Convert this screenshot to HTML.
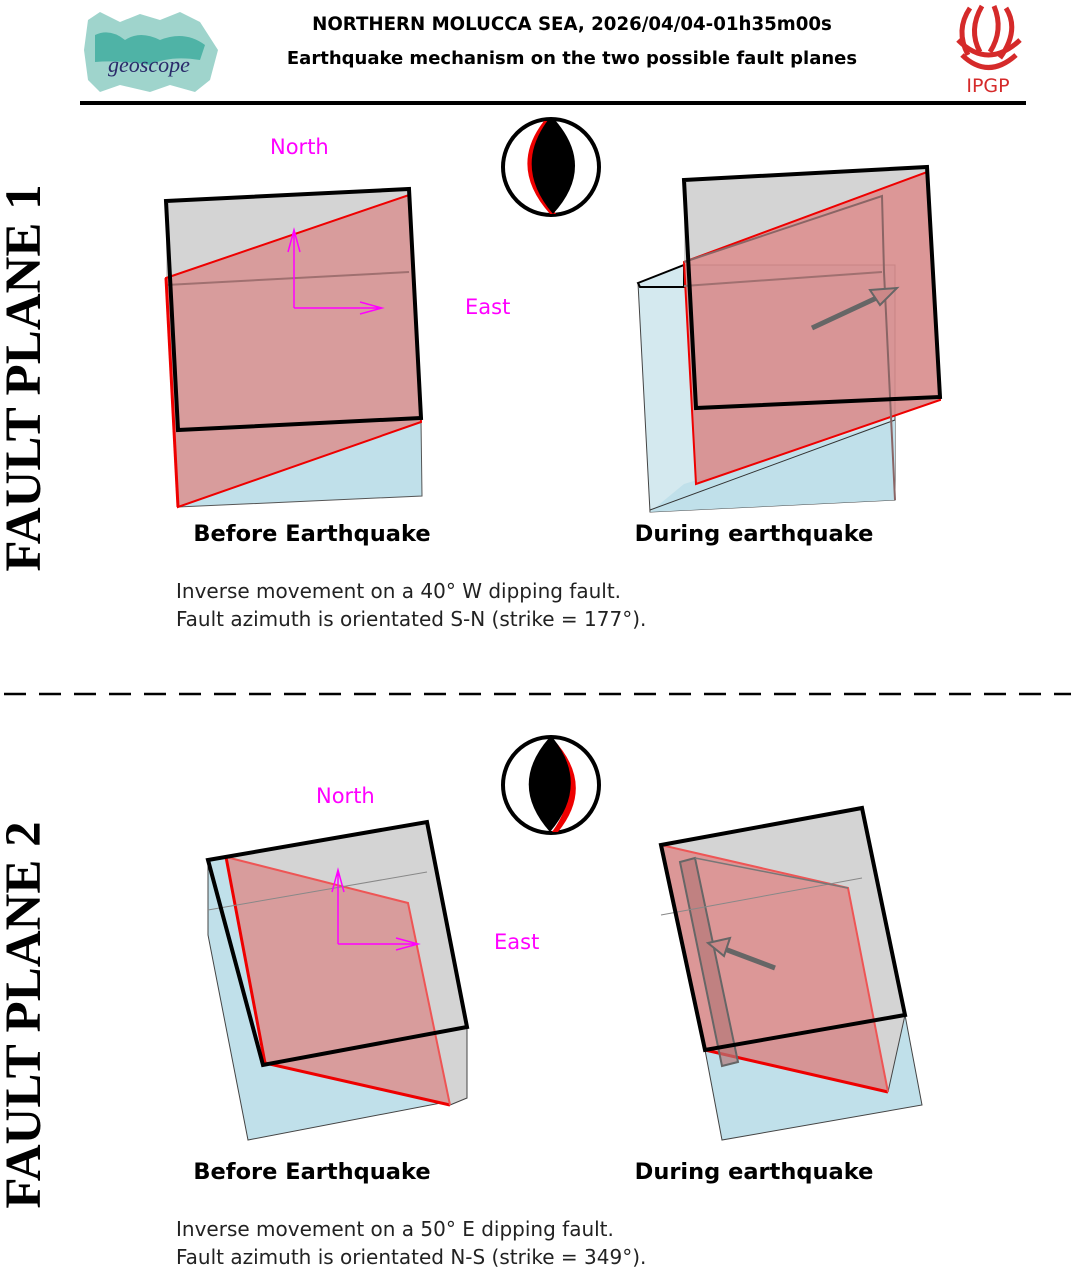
<!DOCTYPE html>
<html><head><meta charset="utf-8"><style>
html,body{margin:0;padding:0;background:#fff;}
svg{display:block;}
</style></head><body>
<svg width="1071" height="1269" viewBox="0 0 1071 1269" xmlns="http://www.w3.org/2000/svg" font-family="DejaVu Sans, Liberation Sans, sans-serif">
<!-- header -->
<g>
<path d="M88,20 L100,12 L120,22 L140,14 L160,20 L180,12 L200,22 L218,50 L210,80 L195,92 L170,85 L150,92 L120,85 L100,92 L88,80 L84,50 Z" fill="#9fd4cc"/>
<path d="M95,35 Q110,28 125,40 Q140,30 160,40 Q185,30 205,45 L200,60 Q170,55 150,65 Q120,60 95,62 Z" fill="#4fb3a6"/>
<text x="108" y="72" font-family="Liberation Serif, serif" font-style="italic" font-size="22" fill="#2a2a6a">geoscope</text>
<text x="572" y="30" text-anchor="middle" font-weight="bold" font-size="18.2" fill="#000">NORTHERN MOLUCCA SEA, 2026/04/04-01h35m00s</text>
<text x="572" y="64" text-anchor="middle" font-weight="bold" font-size="18" fill="#000">Earthquake mechanism on the two possible fault planes</text>
<g fill="none" stroke="#d52a2a" stroke-width="5">
<path d="M970,8 Q955,30 968,55"/><path d="M982,6 Q968,30 980,52"/><path d="M994,6 Q1004,30 990,52"/><path d="M1006,8 Q1020,30 1000,58"/>
<path d="M958,40 Q988,70 1020,40"/><path d="M962,55 Q988,80 1016,55"/>
</g>
<text x="988" y="92" text-anchor="middle" font-size="19" fill="#d52a2a">IPGP</text>
<rect x="80" y="101" width="946" height="4" fill="#000"/>
</g>

<!-- side labels -->
<text transform="translate(40,378) rotate(-90)" text-anchor="middle" font-family="Liberation Serif, serif" font-weight="bold" font-size="51" fill="#000">FAULT PLANE 1</text>
<text transform="translate(40,1015) rotate(-90)" text-anchor="middle" font-family="Liberation Serif, serif" font-weight="bold" font-size="51" fill="#000">FAULT PLANE 2</text>

<line x1="4" y1="694" x2="1071" y2="694" stroke="#000" stroke-width="2.5" stroke-dasharray="22,13"/>

<!-- beachball 1 -->
<g>
<circle cx="551" cy="167" r="48" fill="#fff" stroke="#000" stroke-width="4"/>
<path d="M544,121 Q508,167 550,214 L556,214 Q520,167 549,121 Z" fill="#e00"/>
<path d="M548,120 Q513,167 553,214 Q596,167 555,120 Z" fill="#000"/>
</g>
<!-- beachball 2 -->
<g>
<circle cx="551" cy="785" r="48" fill="#fff" stroke="#000" stroke-width="4"/>
<path d="M553,739 Q596,785 558,832 L552,832 Q586,785 549,739 Z" fill="#e00"/>
<path d="M549,738 Q508,785 550,832 Q590,785 553,738 Z" fill="#000"/>
</g>

<!-- Block 1 before -->
<g>
<polygon points="178,430 421,420 422,496 178,507" fill="#c0e0ea" stroke="#555" stroke-width="1"/>
<polygon points="166,201 409,189 409,195 166,278" fill="#d4d4d4"/>
<polygon points="166,278 409,195 421,422 178,507" fill="#d89c9c" stroke="#e00" stroke-width="2"/>
<line x1="166" y1="285" x2="409" y2="272" stroke="#a07070" stroke-width="2"/>
<polygon points="166,201 409,189 421,418 178,430" fill="none" stroke="#000" stroke-width="4"/>
<line x1="166" y1="278" x2="178" y2="507" stroke="#e00" stroke-width="3"/>
<g stroke="#f0f" stroke-width="1.5" fill="none">
<path d="M294,308 L294,230 M288,252 L294,230 L300,252"/>
<path d="M294,308 L382,308 M360,302 L382,308 L360,314"/>
</g>
<text x="270" y="154" font-size="21" fill="#f0f">North</text>
<text x="465" y="314" font-size="21" fill="#f0f">East</text>
</g>

<!-- Block 1 during -->
<g>
<polygon points="638,283 684,265 895,265 895,500 650,512" fill="#d4e9ef" stroke="#444" stroke-width="1"/>
<polygon points="684,484 895,420 895,500 650,512" fill="#c0e0ea"/>
<line x1="650" y1="510" x2="895" y2="420" stroke="#333" stroke-width="1"/>
<polygon points="638,283 684,265 684,287 640,287" fill="#d4e9ef" stroke="#000" stroke-width="2"/>
<polygon points="684,180 927,167 927,172 684,262" fill="#d4d4d4"/>
<polygon points="684,262 927,172 940,400 696,484" fill="rgba(216,140,140,0.9)" stroke="#e00" stroke-width="2"/>
<polyline points="684,262 882,196 884,272 895,500" fill="none" stroke="#8a6565" stroke-width="2"/>
<line x1="684" y1="286" x2="882" y2="272" stroke="#a07070" stroke-width="2"/>
<polygon points="684,180 927,167 940,397 696,408" fill="none" stroke="#000" stroke-width="4"/>
<line x1="812" y1="328" x2="885" y2="294" stroke="#666" stroke-width="5"/>
<polygon points="897,288 870,290 880,305" fill="#c88" stroke="#666" stroke-width="2"/>
</g>

<text x="312" y="541" text-anchor="middle" font-weight="bold" font-size="22.5" fill="#000">Before Earthquake</text>
<text x="754" y="541" text-anchor="middle" font-weight="bold" font-size="22.5" fill="#000">During earthquake</text>
<text x="176" y="598" font-size="20" fill="#222">Inverse movement on a 40° W dipping fault.</text>
<text x="176" y="626" font-size="20" fill="#222">Fault azimuth is orientated S-N (strike = 177°).</text>

<!-- Block 2 before -->
<g>
<polygon points="208,860 427,822 430,900 467,1027 467,1098 248,1140 208,935" fill="#c0e0ea" stroke="#444" stroke-width="1"/>
<polygon points="226,857 427,822 467,1027 467,1098 450,1105 408,903" fill="#d4d4d4" stroke="#444" stroke-width="1"/>
<polygon points="226,857 408,903 450,1105 265,1063" fill="#d89c9c"/>
<path d="M226,857 L265,1063 L450,1105" stroke="#e00" stroke-width="3" fill="none"/>
<path d="M226,857 L408,903 L450,1105" stroke="#ee5555" stroke-width="2" fill="none"/>
<line x1="208" y1="910" x2="427" y2="872" stroke="#888" stroke-width="1"/>
<polygon points="208,860 427,822 467,1027 263,1065" fill="none" stroke="#000" stroke-width="4"/>
<g stroke="#f0f" stroke-width="1.5" fill="none">
<path d="M338,944 L338,870 M332,892 L338,870 L344,892"/>
<path d="M338,944 L418,944 M396,938 L418,944 L396,950"/>
</g>
<text x="316" y="803" font-size="21" fill="#f0f">North</text>
<text x="494" y="949" font-size="21" fill="#f0f">East</text>
</g>

<!-- Block 2 during -->
<g>
<polygon points="705,1050 905,1015 922,1105 722,1140" fill="#c0e0ea" stroke="#444" stroke-width="1"/>
<polygon points="661,845 862,808 905,1015 888,1092 848,888" fill="#d4d4d4" stroke="#444" stroke-width="1"/>
<polygon points="661,845 848,888 888,1092 705,1050" fill="rgba(216,140,140,0.9)"/>
<path d="M661,845 L705,1050 L888,1092" stroke="#e00" stroke-width="3" fill="none"/>
<path d="M661,845 L848,888 L888,1092" stroke="#ee5555" stroke-width="2" fill="none"/>
<polygon points="680,862 695,858 738,1062 722,1066" fill="rgba(180,120,120,0.7)" stroke="#666" stroke-width="2"/>
<line x1="661" y1="915" x2="862" y2="878" stroke="#888" stroke-width="1"/>
<line x1="695" y1="858" x2="848" y2="888" stroke="#777" stroke-width="1.5"/>
<polygon points="661,845 862,808 905,1015 705,1050" fill="none" stroke="#000" stroke-width="4"/>
<line x1="775" y1="968" x2="722" y2="948" stroke="#666" stroke-width="5"/>
<polygon points="708,943 730,938 724,956" fill="#c88" stroke="#666" stroke-width="2"/>
</g>

<text x="312" y="1179" text-anchor="middle" font-weight="bold" font-size="22.5" fill="#000">Before Earthquake</text>
<text x="754" y="1179" text-anchor="middle" font-weight="bold" font-size="22.5" fill="#000">During earthquake</text>
<text x="176" y="1236" font-size="20" fill="#222">Inverse movement on a 50° E dipping fault.</text>
<text x="176" y="1264" font-size="20" fill="#222">Fault azimuth is orientated N-S (strike = 349°).</text>
</svg>
</body></html>
